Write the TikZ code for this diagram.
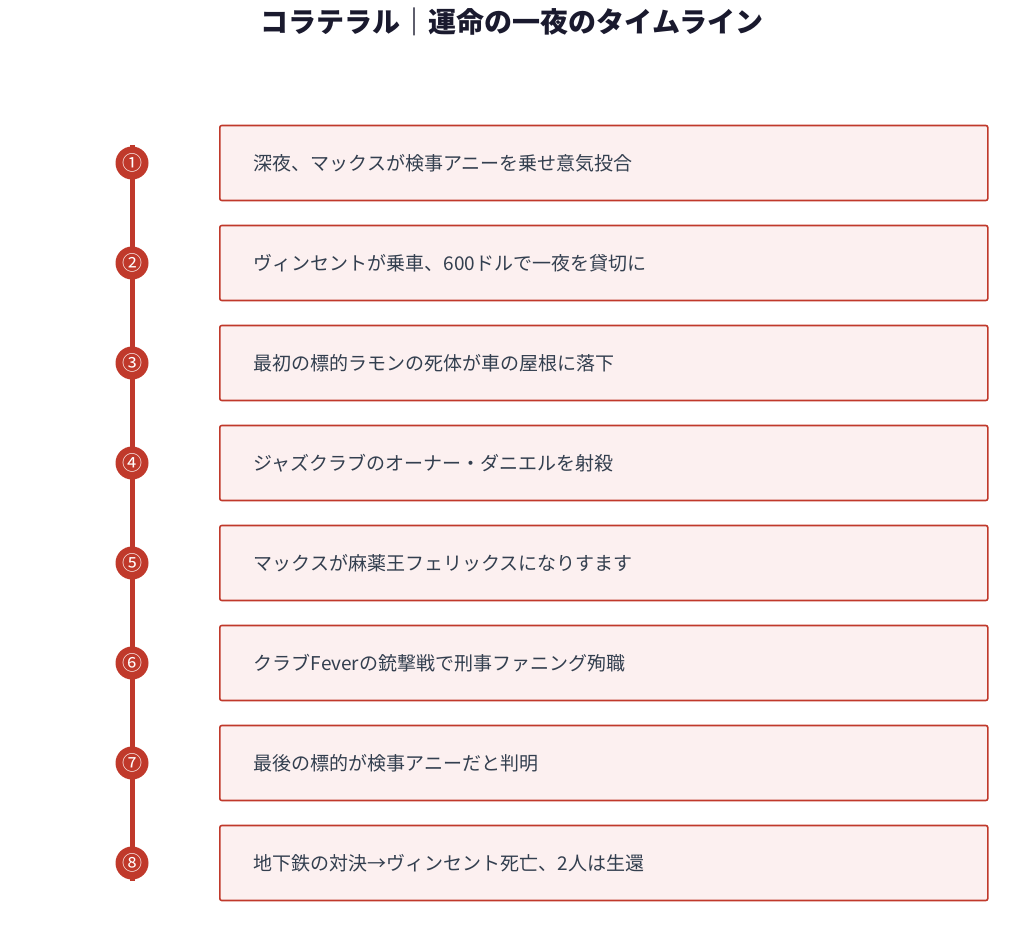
\documentclass[tikz,border=0pt]{standalone}
\usepackage{fontspec}
\setmainfont{Noto Sans CJK JP}
\begin{document}
\begin{tikzpicture}[x=1pt,y=-1pt,
  ev/.style={draw=red!60!black!90!orange, line width=1.6pt, fill=boxfill, rounded corners=2pt, minimum width=747pt, minimum height=75pt, anchor=west, text=txt, font=\fontsize{19}{22}\selectfont, text width=700pt, align=left, inner xsep=34pt},
  num/.style={circle, fill=accent, minimum size=33pt, inner sep=0pt, text=white, font=\fontsize{20}{22}\selectfont}]
\definecolor{accent}{HTML}{C0392B}
\definecolor{boxfill}{HTML}{FCF0F0}
\definecolor{txt}{HTML}{333F4F}
\definecolor{ttl}{HTML}{1A1A2E}
\tikzset{ev/.append style={draw=accent}}
\useasboundingbox (0,0) rectangle (1024,933);
\node[font=\fontsize{28}{32}\selectfont\bfseries, text=ttl] (title) at (512,22) {コラテラル｜運命の一夜のタイムライン};
\coordinate (top) at (132,145);
\coordinate (bot) at (132,881);
\draw[accent, line width=5pt] (top) -- (bot);
\foreach \i/\n/\t in {1/①/深夜、マックスが検事アニーを乗せ意気投合,
 2/②/ヴィンセントが乗車、600ドルで一夜を貸切に,
 3/③/最初の標的ラモンの死体が車の屋根に落下,
 4/④/ジャズクラブのオーナー・ダニエルを射殺,
 5/⑤/マックスが麻薬王フェリックスになりすます,
 6/⑥/クラブFeverの銃撃戦で刑事ファニング殉職,
 7/⑦/最後の標的が検事アニーだと判明,
 8/⑧/地下鉄の対決→ヴィンセント死亡、2人は生還}{
  \node[num] (c\i) at (132,{163+100*(\i-1)}) {\n};
  \node[ev] (e\i) at (219,{163+100*(\i-1)}) {\t};
}
\end{tikzpicture}
\end{document}
